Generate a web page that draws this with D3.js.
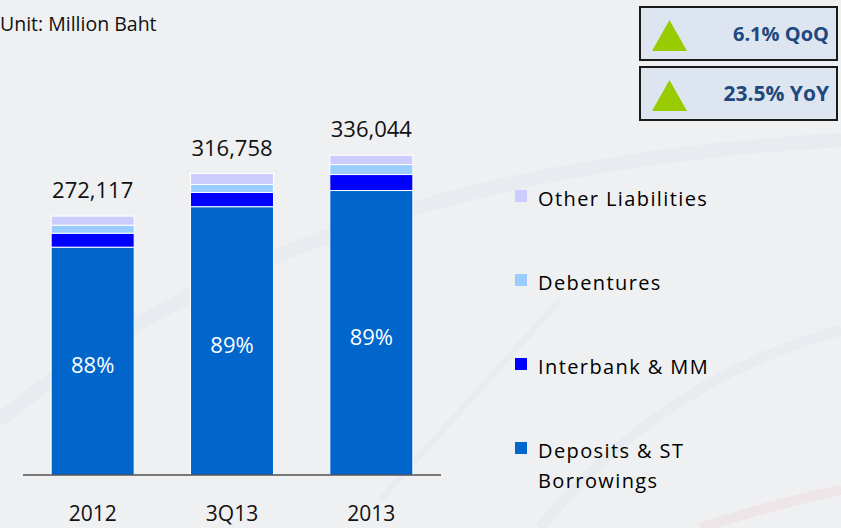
<!DOCTYPE html>
<html>
<head>
<meta charset="utf-8">
<script src="https://cdn.jsdelivr.net/npm/d3@7"></script>
<style>
  body { margin: 0; background: #eff0f2; }
  svg { display: block; font-family: "Open Sans", sans-serif; }
</style>
</head>
<body>
<script>
// data (million baht)
var categories = ["2012", "3Q13", "2013"];
var deposits   = [239463, 282000, 299000];
var interbank  = [14700, 15000, 16800];
var debentures = [8400, 8300, 10500];
var other      = [9554, 11458, 9744];
var totals     = [272117, 316758, 336044];
var shares     = ["88%", "89%", "89%"];

var seriesNames = ["Deposits & ST Borrowings", "Interbank & MM", "Debentures", "Other Liabilities"];
var seriesKeys  = ["deposits", "interbank", "debentures", "other"];
var colors      = ["#0066cc", "#0000ff", "#99ccff", "#ccccff"];

var kpiText = ["6.1% QoQ", "23.5% YoY"];

var width = 841, height = 528;

var rows = categories.map(function(c, i) {
  return { cat: c, deposits: deposits[i], interbank: interbank[i],
           debentures: debentures[i], other: other[i] };
});

var svg = d3.select("body").append("svg")
  .attr("width", width)
  .attr("height", height);

// faint background swooshes
var bg = svg.append("g").attr("fill", "none");
bg.append("rect").attr("width", width).attr("height", height).attr("fill", "#eff0f2");
bg.append("path")
  .attr("d", "M 0 420 Q 300 170 841 140")
  .attr("stroke", "#e1e6ec").attr("stroke-width", 14).attr("opacity", 0.5);
bg.append("path")
  .attr("d", "M 540 528 Q 660 380 841 330")
  .attr("stroke", "#e1e6ec").attr("stroke-width", 10).attr("opacity", 0.5);
bg.append("path")
  .attr("d", "M 380 500 L 560 300")
  .attr("stroke", "#e4e8ee").attr("stroke-width", 6).attr("opacity", 0.6);
bg.append("path")
  .attr("d", "M 700 528 Q 770 505 841 490")
  .attr("stroke", "#ecdede").attr("stroke-width", 10).attr("opacity", 0.6);

var x = d3.scaleBand()
  .domain(categories)
  .range([23, 441])
  .paddingInner(0.404)
  .paddingOuter(0.202);

var y = d3.scaleLinear()
  .domain([0, 350000])
  .range([475, 142]);

var stack = d3.stack().keys(seriesKeys);
var layers = stack(rows);

var g = svg.append("g");

g.selectAll(".layer")
  .data(layers)
  .enter().append("g")
  .attr("class", "layer")
  .attr("fill", function(d, i) { return colors[i]; })
  .selectAll("rect")
  .data(function(d) { return d; })
  .enter().append("rect")
  .attr("x", function(d) { return x(d.data.cat); })
  .attr("y", function(d) { return y(d[1]); })
  .attr("width", x.bandwidth())
  .attr("height", function(d) { return y(d[0]) - y(d[1]); })
  .attr("stroke", "#ffffff")
  .attr("stroke-width", 1);

// axis line
g.append("line")
  .attr("x1", 23).attr("x2", 441)
  .attr("y1", y(0)).attr("y2", y(0))
  .attr("stroke", "#000").attr("stroke-width", 1);

// category labels
g.selectAll(".cat")
  .data(categories)
  .enter().append("text")
  .attr("class", "cat")
  .attr("x", function(d) { return x(d) + x.bandwidth() / 2; })
  .attr("y", 521)
  .attr("text-anchor", "middle")
  .attr("font-size", 21)
  .attr("fill", "#111")
  .text(function(d) { return d; });

// totals
g.selectAll(".total")
  .data(totals)
  .enter().append("text")
  .attr("class", "total")
  .attr("x", function(d, i) { return x(categories[i]) + x.bandwidth() / 2; })
  .attr("y", function(d) { return y(d) - 18; })
  .attr("text-anchor", "middle")
  .attr("font-size", 22)
  .attr("fill", "#111")
  .text(function(d) { return d3.format(",")(d); });

// share of deposits
g.selectAll(".share")
  .data(shares)
  .enter().append("text")
  .attr("class", "share")
  .attr("x", function(d, i) { return x(categories[i]) + x.bandwidth() / 2; })
  .attr("y", function(d, i) { return (y(0) + y(deposits[i])) / 2 + 12; })
  .attr("text-anchor", "middle")
  .attr("font-size", 22)
  .attr("fill", "#fff")
  .text(function(d) { return d; });

// unit note
svg.append("text")
  .attr("x", 0).attr("y", 31)
  .attr("font-size", 19.5)
  .attr("fill", "#111")
  .text("Unit: Million Baht");

// legend, top to bottom = reverse of stack
var legendY = [196, 280, 364, 448];
var legend = svg.append("g");
var order = [3, 2, 1, 0];
order.forEach(function(si, k) {
  var row = legend.append("g").attr("transform", "translate(515," + legendY[k] + ")");
  row.append("rect")
    .attr("x", 0).attr("y", -6).attr("width", 12).attr("height", 12)
    .attr("fill", colors[si]);
  var t = row.append("text")
    .attr("x", 23).attr("y", 10)
    .attr("font-size", 20)
    .attr("letter-spacing", 1.4)
    .attr("fill", "#000");
  if (si === 0) {
    t.append("tspan").attr("x", 23).text("Deposits & ST");
    t.append("tspan").attr("x", 23).attr("dy", 30).text("Borrowings");
  } else {
    t.text(seriesNames[si]);
  }
});

// KPI boxes
var kpi = svg.append("g");
kpiText.forEach(function(txt, i) {
  var top = 7 + i * 60;
  var b = kpi.append("g").attr("transform", "translate(640," + top + ")");
  b.append("rect")
    .attr("width", 197).attr("height", 53)
    .attr("fill", "#dce5f0")
    .attr("stroke", "#1a1a1a").attr("stroke-width", 2);
  b.append("path")
    .attr("d", "M 12 44 L 29.5 13 L 47 44 Z")
    .attr("fill", "#99cc00");
  b.append("text")
    .attr("x", 189).attr("y", 34)
    .attr("text-anchor", "end")
    .attr("font-size", i === 0 ? 20 : 21)
    .attr("font-weight", "bold")
    .attr("fill", "#1f497d")
    .text(txt);
});
</script>
</body>
</html>
